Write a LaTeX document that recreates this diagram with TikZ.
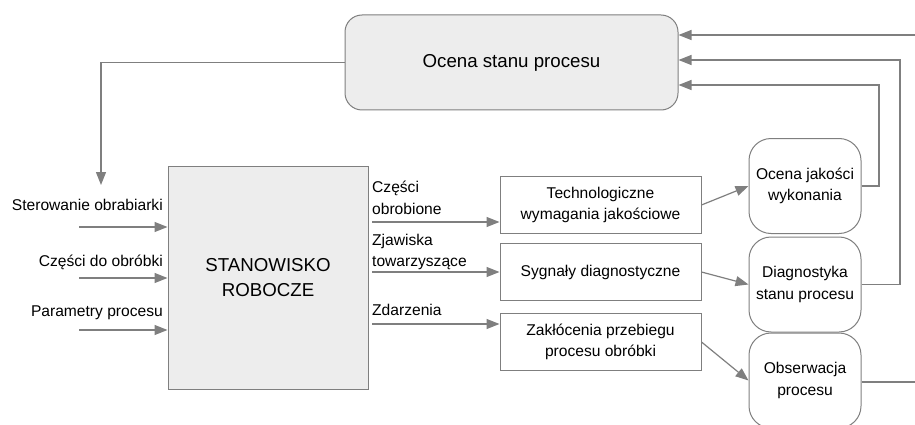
\documentclass[tikz,border=0pt]{standalone}
\usepackage{fontspec}
\setmainfont{Liberation Sans}
\usetikzlibrary{arrows.meta}
\definecolor{linegray}{HTML}{7F7F7F}
\definecolor{boxfill}{HTML}{EDEDED}

\begin{document}
\begin{tikzpicture}[
  x = 1pt, y = -1pt,
  every node/.style = {font = \fontsize{15.6}{21.5}\selectfont, inner sep = 0pt},
  big/.style = {font = \fontsize{18.7}{25}\selectfont, align = center},
  block/.style = {draw = linegray, line width = 1pt, minimum width = 201pt, minimum height = 57pt, align = center},
  oval/.style = {draw = linegray, line width = 1pt, rounded corners = 22pt, minimum width = 112pt, minimum height = 95pt, align = center},
  arr/.style = {draw = linegray, line width = 1.2pt, -{Triangle[length = 13pt, width = 10pt]}},
  link/.style = {draw = linegray, line width = 1.2pt},
  ]
  \useasboundingbox (0,0) rectangle (915,425);

  % main blocks
  \node[big, draw = linegray, fill = boxfill, line width = 1pt, rounded corners = 17pt,
        minimum width = 333pt, minimum height = 95pt] (ocena) at (511.5,62.5) {Ocena stanu procesu};
  \node[big, draw = linegray, fill = boxfill, line width = 1pt,
        minimum width = 200pt, minimum height = 223pt] (stan) at (268,277.5) {STANOWISKO\\ROBOCZE};

  \node[block] (tech) at (600.5,205) {Technologiczne\\wymagania jakościowe};
  \node[block] (syg)  at (600.5,272) {Sygnały diagnostyczne};
  \node[block] (zak)  at (600.5,342) {Zakłócenia przebiegu\\procesu obróbki};

  \node[oval] (ojw)  at (805,186)   {Ocena jakości\\wykonania};
  \node[oval] (diag) at (805,284.5) {Diagnostyka\\stanu procesu};
  \node[oval] (obs)  at (805,380.5) {Obserwacja\\procesu};

  % inputs
  \node[anchor = east] (lster) at (163,205) {Sterowanie obrabiarki};
  \node[anchor = east] (lczd)  at (163,262) {Części do obróbki};
  \node[anchor = east] (lpar)  at (163,313) {Parametry procesu};
  \coordinate (in1) at (79,227);
  \coordinate (in2) at (79,278);
  \coordinate (in3) at (79,330);
  \draw[arr] (in1) -- (in1 -| stan.west);
  \draw[arr] (in2) -- (in2 -| stan.west);
  \draw[arr] (in3) -- (in3 -| stan.west);

  % outputs
  \node[anchor = west, align = left] (lobr) at (372,198) {Części\\obrobione};
  \node[anchor = west, align = left] (lzja) at (372,252) {Zjawiska\\towarzyszące};
  \node[anchor = west] (lzda) at (372,310) {Zdarzenia};
  \coordinate (out1) at (372,222);
  \coordinate (out2) at (372,272);
  \coordinate (out3) at (372,324);
  \draw[arr] (out1) -- (out1 -| tech.west);
  \draw[arr] (out2) -- (out2 -| syg.west);
  \draw[arr] (out3) -- (out3 -| zak.west);

  \draw[arr] (tech.east) -- (ojw.west);
  \draw[arr] (syg.east) -- (diag.west);
  \draw[arr] (zak.east) -- (obs.west);

  % feedback
  \coordinate (ster) at (101,185);
  \draw[arr] (ocena.west) -| (ster);
  \coordinate (fb1) at (879,85);
  \coordinate (fb2) at (900,60);
  \coordinate (fb3) at (915,35);
  \coordinate (fb4) at (915,382);
  \draw[arr] (ojw.east) -| (fb1) -- (fb1 -| ocena.east);
  \draw[arr] (diag.east) -| (fb2) -- (fb2 -| ocena.east);
  \draw[arr] (fb3) -- (fb3 -| ocena.east);
  \draw[link] (obs.east |- fb4) -- (fb4);
\end{tikzpicture}
\end{document}
